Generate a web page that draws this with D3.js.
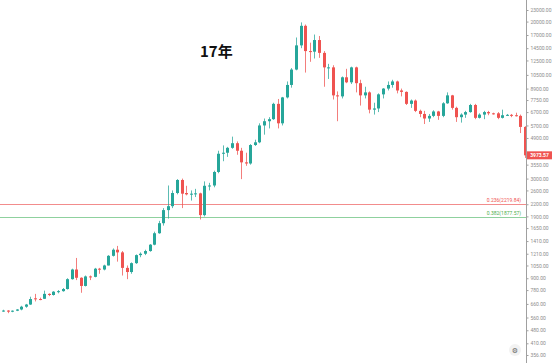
<!DOCTYPE html>
<html>
<head>
<meta charset="utf-8">
<style>
	body{ margin:0; background:#fff; }
	.tick text{ font:5px Roboto, sans-serif; fill:#8c8c8c; }
	.tick line{ stroke:#a0a0a0; }
	.domain{ stroke:#a0a0a0; }
</style>
<script src="https://d3js.org/d3.v7.min.js"></script>
</head>
<body>
<div id="container"></div>
<script>

// weekly candles, Sep 2016 - Nov 2018
var weeks = d3.utcMonday.range(new Date(Date.UTC(2016, 8, 12)), new Date(Date.UTC(2018, 10, 20)))
	.map(d3.utcFormat("%Y-%m-%d"));

var opens = [608,609,601,608,617,638,655,706,700,702,745,735,765,770,790,890,1000,905,820,920,
	915,1010,1000,1050,1180,1270,1230,1020,970,1080,1190,1210,1250,1350,1550,1750,2050,2150,2520,2950,
	2520,2480,2500,2510,1930,2750,2760,3250,4050,4100,4350,4600,4200,3650,3600,4500,4650,5700,6000,6150,
	7400,5850,8000,9300,11200,15000,19000,14000,13900,16000,13700,11400,11500,8200,8100,10200,9600,11500,9500,8200,
	8500,6900,7000,8300,8900,9300,9700,8700,8550,7400,7700,6800,6550,6200,6400,6750,6400,7450,8200,7050,
	6300,6500,6700,7300,6250,6500,6700,6600,6600,6250,6450,6480,6450,6400,5600];
var highs = [615,612,610,620,645,660,720,745,712,775,750,770,780,800,900,1010,1150,910,930,930,
	1020,1020,1060,1190,1290,1330,1250,1050,1090,1200,1230,1270,1360,1580,1800,2100,2760,2600,2980,3000,
	2750,2600,2650,2530,2900,2850,3300,4200,4480,4400,4980,4700,4350,4100,4550,4800,5850,6200,6300,7500,
	7850,8050,9700,11400,16500,19800,19300,15500,17100,16800,14000,12000,11800,8600,10300,11300,11600,11600,9900,9100,
	8600,7500,8400,8950,9700,9900,9800,8900,8600,7800,7800,6900,6800,6550,6850,6800,7550,8500,8250,7150,
	6600,6800,7400,7400,6600,6800,6800,6650,6700,6900,6550,6550,6650,6500,5650];
var lows = [600,590,597,605,611,630,652,680,690,700,725,730,750,765,785,885,880,755,815,880,
	910,950,990,1050,1170,1100,930,890,950,1070,1160,1190,1240,1340,1540,1700,1850,2100,2480,2100,
	2450,2300,2400,1830,1900,2600,2700,3200,3700,3900,4300,4000,2980,3500,3550,4450,4600,5100,5500,6100,
	5500,5700,7900,9000,11100,14500,10800,12300,12800,12900,9100,10000,7800,6000,7900,9500,9400,8500,7250,7900,
	6600,6500,6700,7900,8700,9000,8400,8100,7300,7050,6700,6300,5800,5950,6300,6100,6300,7400,6900,5950,
	5900,6250,6650,6150,6200,6150,6450,6500,6150,6200,6400,6300,6350,5200,3850];
var closes = [609,601,608,617,638,655,700,700,695,745,735,765,770,790,890,1000,905,820,920,915,
	1010,1000,1050,1180,1270,1230,1020,970,1080,1190,1210,1250,1350,1550,1750,2050,2150,2520,2950,2500,
	2480,2500,2510,1930,2750,2760,3250,4050,4100,4350,4600,4200,3650,3600,4500,4650,5700,6000,6150,7400,
	5850,8000,9300,11200,15000,19000,14000,13900,16000,13700,11500,11500,8200,8100,10200,9600,11500,9500,8200,8500,
	6900,7000,8300,8900,9300,9700,8700,8550,7400,7700,6800,6550,6200,6400,6750,6400,7450,8200,7050,6300,
	6500,6700,7300,6250,6500,6700,6600,6550,6250,6450,6480,6450,6400,5600,3973.57];

var priceTicks = [356,410,480,560,660,780,900,1050,1210,1410,1650,1900,2200,2600,3000,3550,
	4900,5700,6700,7750,8900,10500,12500,14500,17000,20000,23000];

var fibLevels = ["0.236", "0.382"];
var fibPrices = [2219.84, 1877.57];
var fibColors = ["#f28c8c", "#8fd19e"];
var fibText = ["#ef5350", "#4caf50"];

var lastPrice = closes[closes.length - 1];

var W = 554, H = 363;
var up = "#26a69a", down = "#ef5350";

var svg = d3.select("#container").append("svg")
	.attr("width", W).attr("height", H);

var x = d3.scalePoint().domain(weeks).range([3, 525]);
var y = d3.scaleLog().domain([356, 23000]).range([355, 10]);

var candles = weeks.map(function(w, i){
	return {w:w, o:opens[i], h:highs[i], l:lows[i], c:closes[i]};
});

// fib lines
var fib = svg.selectAll("g.fib").data(fibPrices).enter().append("g").attr("class", "fib");
fib.append("line")
	.attr("x1", 0).attr("x2", 526)
	.attr("y1", function(d){ return Math.round(y(d)) + 0.5; })
	.attr("y2", function(d){ return Math.round(y(d)) + 0.5; })
	.style("stroke", function(d, i){ return fibColors[i]; })
	.style("stroke-width", 1);
fib.append("text")
	.attr("x", 521)
	.attr("y", function(d){ return y(d) - 2; })
	.attr("text-anchor", "end")
	.style("font", "5px Roboto, sans-serif")
	.style("fill", function(d, i){ return fibText[i]; })
	.text(function(d, i){ return fibLevels[i] + "(" + d.toFixed(2) + ")"; });

// candles
var g = svg.selectAll("g.candle").data(candles).enter().append("g").attr("class", "candle");
g.append("line")
	.attr("x1", function(d){ return Math.round(x(d.w)) + 0.5; })
	.attr("x2", function(d){ return Math.round(x(d.w)) + 0.5; })
	.attr("y1", function(d){ return y(d.h); })
	.attr("y2", function(d){ return y(d.l); })
	.style("stroke", function(d){ return d.c >= d.o ? up : down; })
	.style("stroke-opacity", 0.75)
	.style("stroke-width", 1);
g.append("rect")
	.attr("x", function(d){ return Math.round(x(d.w)) - 1; })
	.attr("width", 3)
	.attr("y", function(d){ return y(Math.max(d.o, d.c)); })
	.attr("height", function(d){ return Math.max(1, y(Math.min(d.o, d.c)) - y(Math.max(d.o, d.c))); })
	.style("fill", function(d){ return d.c >= d.o ? up : down; });

// price axis
svg.append("g")
	.attr("transform", "translate(526.5,0)")
	.call(d3.axisRight(y).tickValues(priceTicks).tickSize(2).tickPadding(2).tickFormat(d3.format(".2f")))
	.call(function(a){ a.select(".domain").attr("d", "M0,0V" + H); });

// last price label
var lp = svg.append("g").attr("transform", "translate(527," + y(lastPrice) + ")");
lp.append("rect").attr("x", 0).attr("y", -4).attr("width", 25).attr("height", 8).style("fill", down);
lp.append("text").attr("x", 12.5).attr("y", 1.8).attr("text-anchor", "middle")
	.style("font", "bold 5px Roboto, sans-serif").style("fill", "#fff")
	.text(lastPrice.toFixed(2));

// title
svg.append("text")
	.attr("x", 200).attr("y", 57)
	.style("font", "bold 15px 'Noto Sans CJK SC', sans-serif")
	.style("fill", "#111")
	.text("17年");

// settings icon
svg.append("circle").attr("cx", 515).attr("cy", 350).attr("r", 6).style("fill", "#f2f2f2");
svg.append("text").attr("x", 515).attr("y", 352.5).attr("text-anchor", "middle")
	.style("font", "7px 'DejaVu Sans'").style("fill", "#666").text("\u2699");

</script>
</body>
</html>
